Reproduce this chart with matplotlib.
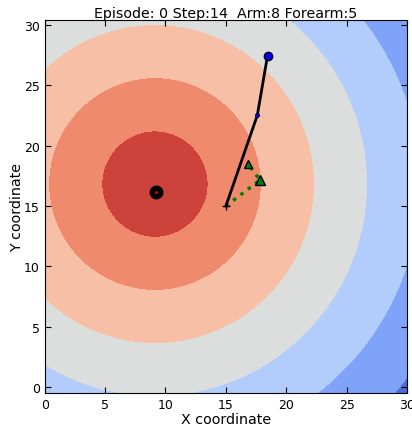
import numpy as np
from matplotlib import pyplot as plt

# reward field: distance from goal, contour levels
goal_field = (9.13, 16.82)
levels = [0, 4.4, 8.8, 13.2, 17.6, 22.0, 26.4, 30.8]

goal = (9.2, 16.15)

# arm: base, elbow, hand
arm_x = [15.0, 17.6, 18.45]
arm_y = [15.0, 22.5, 27.45]

# previous pose (green dotted)
prev_x = [15.0, 17.82, 16.85]
prev_y = [15.0, 17.15, 18.47]

xs = np.linspace(-1, 31, 161)
ys = np.linspace(-1, 31, 161)
X, Y = np.meshgrid(xs, ys)
Z = np.sqrt((X - goal_field[0])**2 + (Y - goal_field[1])**2)

fig = plt.figure(figsize=(4.12, 4.27), dpi=100)
ax = fig.add_axes([0.1085, 0.0773, 0.8795, 0.8742])
ax.contourf(X, Y, Z, levels=levels, cmap='coolwarm_r')

ax.plot(goal[0], goal[1], 'o', color='k', markersize=9)
ax.plot(goal[0], goal[1], 'o', color='r', markersize=2, markeredgewidth=0)

ax.plot(prev_x, prev_y, ':', color='g', linewidth=2.5)
ax.plot(prev_x[1], prev_y[1], '^', color='g', markeredgecolor='k', markersize=7)
ax.plot(prev_x[2], prev_y[2], '^', color='g', markeredgecolor='k', markersize=6)

ax.plot(arm_x, arm_y, '-', color='k', linewidth=2)
ax.plot(arm_x[0], arm_y[0], '+', color='k', markersize=6)
ax.plot(arm_x[1], arm_y[1], 'o', color='b', markeredgecolor='k', markersize=3, markeredgewidth=0.5)
ax.plot(arm_x[2], arm_y[2], 'o', color='b', markeredgecolor='k', markersize=6)

ax.set_xlim(0, 30)
ax.set_ylim(-0.47, 30.42)
ax.set_xticks([0, 5, 10, 15, 20, 25, 30])
ax.set_yticks([0, 5, 10, 15, 20, 25, 30])
ax.tick_params(direction='in', top=True, right=True, labelsize=9, length=4)
ax.set_xlabel('X coordinate', fontsize=10.3, labelpad=1)
ax.set_ylabel('Y coordinate', fontsize=10.3, labelpad=0)
ax.set_title('Episode: 0 Step:14  Arm:8 Forearm:5', fontsize=10.3, pad=2)

fig.savefig('out.png', dpi=100)
